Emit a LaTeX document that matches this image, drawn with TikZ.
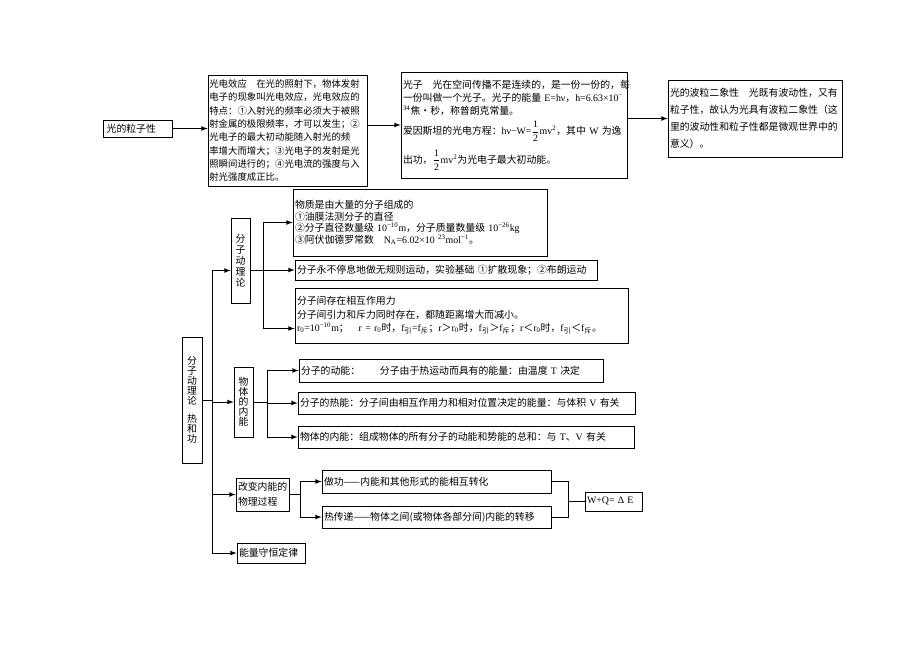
\documentclass[tikz,border=0pt]{standalone}
\usepackage{amsmath}
\usepackage{fontspec}
\setmainfont{Noto Sans CJK SC}
\newfontfamily\lat{Liberation Serif}
\usetikzlibrary{arrows}
\usetikzlibrary{calc}
\newcommand\bx{\fontsize{7.4}{10}\selectfont}
\newcommand\half{$\dfrac{\mbox{\lat 1}}{\mbox{\lat 2}}$}

\begin{document}
\begin{tikzpicture}[x=0.75pt, y=-0.75pt, >=latex, line width=0.6pt,
  box/.style 2 args={draw, inner xsep=1.5pt, inner ysep=0pt, text width=#1*0.75pt-3pt, minimum height=#2*0.75pt, align=left, font=\bx},
  vbox/.style 2 args={draw, inner sep=0pt, minimum width=#1*0.75pt, minimum height=#2*0.75pt, align=center, font=\fontsize{7.4}{7.5}\selectfont}]
  \useasboundingbox (0,0) rectangle (920,651);

  \node[box={69}{17}] (lz) at (137.5,128.5) {\,光的粒子性};
  \node[box={159}{111}, inner xsep=1pt, text width=159*0.75pt-2pt, font=\fontsize{7.05}{10}\selectfont] (gd) at (287.5,130.5) {光电效应　在光的照射下，物体发射\\
    电子的现象叫光电效应，光电效应的\\
    特点：①入射光的频率必须大于被照\\
    射金属的极限频率，才可以发生；②\\
    光电子的最大初动能随入射光的频\\
    率增大而增大；③光电子的发射是光\\
    照瞬间进行的；④光电流的强度与入\\
    射光强度成正比。};
  \node[box={226}{106}] (gz) at (514,125) {光子　光在空间传播不是连续的，是一份一份的，每\\
    一份叫做一个光子。光子的能量 {\lat E=hν}，{\lat h=6.63×10\textsuperscript{−}}\\
    {\lat\textsuperscript{34}}焦・秒，称普朗克常量。\\[3pt]
    爱因斯坦的光电方程：{\lat hν−W=}\half{\lat mv\textsuperscript{2}}，其中 {\lat W} 为逸\\[5pt]
    出功，\half{\lat mv\textsuperscript{2}}为光电子最大初动能。};
  \node[box={174}{77}, font=\fontsize{7.4}{12.75}\selectfont] (bl) at (755,118.5) {光的波粒二象性　光既有波动性，又有\\
    粒子性，故认为光具有波粒二象性（这\\
    里的波动性和粒子性都是微观世界中的\\
    意义）。};

  \draw[->] (lz.east) -- (lz.east -| gd.west);
  \draw[->] (gd.east |- gz.west) -- (gz.west);
  \draw[->] (gz.east |- bl.west) -- (bl.west);

  \node[vbox={20}{126}] (rg) at (192,400) {分\\子\\动\\理\\论\\[6pt]热\\和\\功};
  \node[vbox={19}{85}, font=\fontsize{7.4}{8.3}\selectfont] (fd) at (240.5,260.5) {分\\子\\动\\理\\论};
  \node[vbox={19}{70}] (nn) at (243.5,402) {物\\体\\的\\内\\能};
  \node[box={53}{33}, font=\fontsize{7.4}{11}\selectfont] (gb) at (262.5,494.5) {改变内能的\\物理过程};
  \node[box={68}{20}] (sh) at (271,553) {能量守恒定律};

  \node[box={254}{67}, font=\fontsize{7.4}{8.8}\selectfont] (wz) at (420,222.5) {物质是由大量的分子组成的\\
    ①油膜法测分子的直径\\
    ②分子直径数量级 {\lat 10\textsuperscript{−10}m}，分子质量数量级 {\lat 10\textsuperscript{−26}kg}\\
    ③阿伏伽德罗常数　{\lat N\textsubscript{A}=6.02×10\textsuperscript{ 23}mol\textsuperscript{−1}}。};
  \node[box={302}{20}] (yd) at (446,270) {分子永不停息地做无规则运动，实验基础 ①扩散现象；②布朗运动};
  \node[box={333}{55}] (zy) at (461.5,315.5) {分子间存在相互作用力\\
    分子间引力和斥力同时存在，都随距离增大而减小。\\
    {\lat r\textsubscript{0}=10\textsuperscript{−10}m}；　{\lat r = r\textsubscript{0}}时，{\lat f}\textsubscript{引}{\lat =f}\textsubscript{斥}；{\lat r}＞{\lat r\textsubscript{0}}时，{\lat f}\textsubscript{引}＞{\lat f}\textsubscript{斥}；{\lat r}＜{\lat r\textsubscript{0}}时，{\lat f}\textsubscript{引}＜{\lat f}\textsubscript{斥}。};

  \node[box={304}{23}] (dn) at (451,370.5) {分子的动能：　　分子由于热运动而具有的能量：由温度 {\lat T} 决定};
  \node[box={337}{22}] (sn) at (466.5,403) {分子的热能：分子间由相互作用力和相对位置决定的能量：与体积 {\lat V} 有关};
  \node[box={336}{22}] (wn) at (466,437) {物体的内能：组成物体的所有分子的动能和势能的总和：与 {\lat T}、{\lat V} 有关};

  \node[box={229}{23}] (zg) at (436.5,481.5) {做功——内能和其他形式的能相互转化};
  \node[box={229}{22}] (rc) at (436.5,517) {热传递——物体之间(或物体各部分间)内能的转移};
  \node[box={57}{19}] (wq) at (613.5,501.5) {{\lat W+Q= Δ E}};

  \coordinate (c1) at (212,0);
  \coordinate (c2) at (263,0);
  \coordinate (c3) at (267,0);
  \coordinate (c4) at (300,0);
  \coordinate (c5) at (568,0);

  \draw (rg.east) -- (rg.east -| c1);
  \draw ($(c1 |- fd.west)+(0,10)$) -- (c1 |- sh.west);
  \draw[->] ($(c1 |- fd.west)+(0,10)$) -- ($(fd.west)+(0,10)$);
  \foreach \nd in {nn,gb,sh}
    \draw[->] (c1 |- \nd.west) -- (\nd.west);

  \draw ($(fd.east)+(0,10)$) -- ($(c2 |- fd.east)+(0,10)$);
  \draw (c2 |- wz.west) -- ($(c2 |- zy.west)+(0,13)$);
  \draw[->] (c2 |- wz.west) -- (wz.west);
  \draw[->] (c2 |- yd.west) -- (yd.west);
  \draw[->] ($(c2 |- zy.west)+(0,13)$) -- ($(zy.west)+(0,13)$);

  \draw (nn.east) -- (c3 |- nn.east);
  \draw (c3 |- dn.west) -- (c3 |- wn.west);
  \foreach \nd in {dn,sn,wn}
    \draw[->] (c3 |- \nd.west) -- (\nd.west);

  \draw (gb.east) -- (c4 |- gb.east);
  \draw (c4 |- zg.west) -- (c4 |- rc.west);
  \foreach \nd in {zg,rc}
    \draw[->] (c4 |- \nd.west) -- (\nd.west);

  \draw (zg.east) -- (c5 |- zg.east) -- (c5 |- rc.east) -- (rc.east);
  \draw (c5 |- wq.west) -- (wq.west);
\end{tikzpicture}
\end{document}
